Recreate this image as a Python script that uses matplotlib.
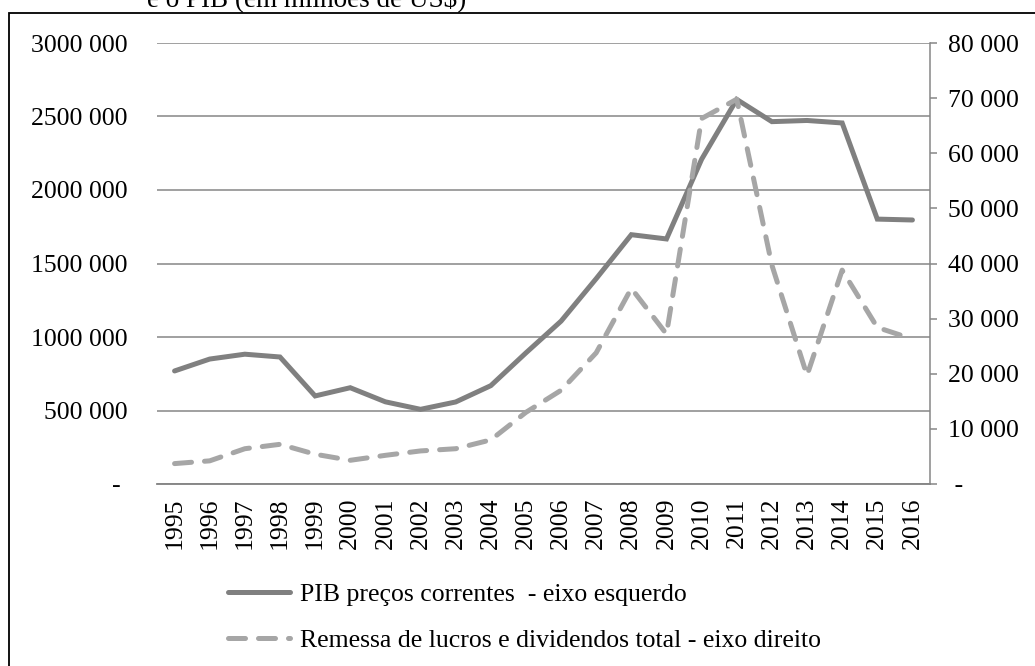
import matplotlib
matplotlib.use("Agg")
import matplotlib.pyplot as plt
from matplotlib.patches import Rectangle

# ---- data ----
years = [str(y) for y in range(1995, 2017)]
pib = [769, 850, 883, 864, 599, 655, 559, 508, 558, 669,
       892, 1108, 1397, 1696, 1667, 2209, 2616, 2465, 2473, 2456,
       1802, 1796]  # em milhares de milhões, multiplicado abaixo
pib = [v * 1000 for v in pib]
remessa = [3700, 4200, 6400, 7200, 5400, 4300, 5200, 6000, 6400, 8000,
           13000, 17000, 23800, 35500, 27200, 66300, 69800, 39700, 19700, 38800,
           28400, 26300]

left_ticks = [0, 500000, 1000000, 1500000, 2000000, 2500000, 3000000]
left_labels = ["- ", "500 000", "1000 000", "1500 000", "2000 000", "2500 000", "3000 000"]
right_ticks = [0, 10000, 20000, 30000, 40000, 50000, 60000, 70000, 80000]
right_labels = [" -", "10 000", "20 000", "30 000", "40 000", "50 000", "60 000", "70 000", "80 000"]

label_pib = "PIB preços correntes  - eixo esquerdo"
label_rem = "Remessa de lucros e dividendos total - eixo direito"
title = "e o PIB (em milhões de US$)"

plt.rcParams["font.family"] = ["Liberation Serif", "DejaVu Serif"]
FS = 18.5
GRID = "#868686"

W, H = 1035, 666
fig = plt.figure(figsize=(W / 100, H / 100), dpi=100)
ax = fig.add_axes([157 / W, 1 - 484 / H, (930 - 157) / W, (484 - 43) / H])
ax2 = ax.twinx()

x = list(range(len(years)))
l1, = ax.plot(x, pib, color="#808080", lw=3.6, solid_capstyle="round",
              solid_joinstyle="miter", zorder=3)
l2, = ax2.plot(x, remessa, color="#A6A6A6", lw=3.6, linestyle=(0, (3.4, 2.6)),
               dash_capstyle="round", zorder=3)

ax.set_xlim(-0.5, len(years) - 0.5)
ax.set_ylim(0, 3000000)
ax2.set_ylim(0, 80000)

ax.set_yticks(left_ticks, left_labels, fontsize=FS)
ax.set_xticks(x, years, rotation=90, fontsize=FS)
ax2.set_yticks(right_ticks, right_labels, fontsize=FS)

ax.yaxis.grid(True, color=GRID, lw=1.1)
ax.set_axisbelow(True)
ax.tick_params(axis="y", length=0, pad=21.5)
ax.tick_params(axis="x", length=0, pad=9.5)
ax2.tick_params(axis="y", direction="out", length=5, width=1.1, color=GRID, pad=8)

for a in (ax, ax2):
    for s in ("top", "left", "right"):
        a.spines[s].set_visible(False)
    a.spines["bottom"].set_color(GRID)
    a.spines["bottom"].set_linewidth(1.1)
ax2.spines["right"].set_visible(True)
ax2.spines["right"].set_color(GRID)
ax2.spines["right"].set_linewidth(1.1)

fig.legend([l1, l2], [label_pib, label_rem], loc="upper left",
           bbox_to_anchor=(228 / W, 1 - 583 / H), frameon=False, fontsize=FS,
           handlelength=2.4, handletextpad=0.4, labelspacing=0.88,
           borderpad=0, borderaxespad=0)

# title of the source figure, cut at the top edge, and its frame
fig.text(147 / W, 1 - 6 / H, title, fontsize=FS + 1, va="baseline", ha="left")
fig.add_artist(Rectangle((9 / W, -0.1), 2, 1 - 13 / H + 0.1, transform=fig.transFigure,
                         fill=False, ec="black", lw=1.3))

fig.savefig("out.png", dpi=100)
